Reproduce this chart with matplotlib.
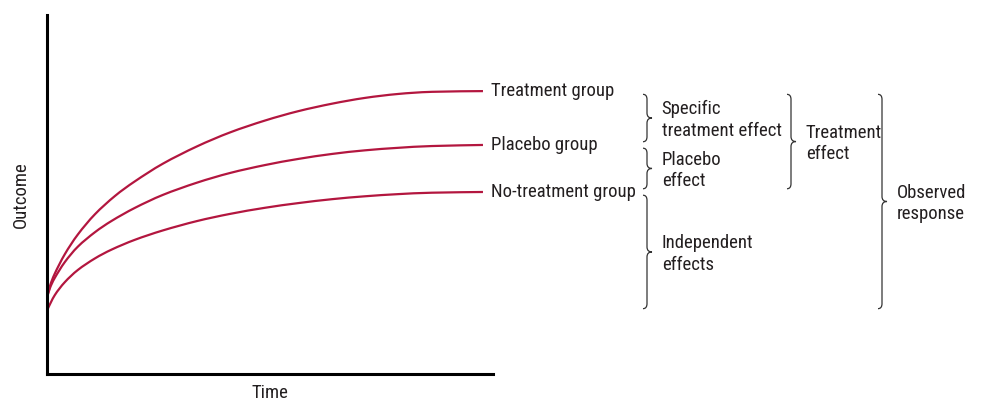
import matplotlib
matplotlib.use("Agg")
import matplotlib.pyplot as plt
from matplotlib.path import Path
from matplotlib.patches import PathPatch

plt.rcParams['font.family'] = ['Roboto Condensed', 'Barlow Semi Condensed', 'DejaVu Sans']

# values (time 0-100, outcome 0-100)
time_treat = [0, 0.7, 1.8, 4.1, 7.1, 11.0, 15.6, 20.2, 26.6, 34.4, 42.0, 50.0, 57.6, 65.4, 72.9, 80.5, 88.3, 100]
treatment = [21.2, 24.6, 28.0, 33.4, 38.9, 44.5, 49.6, 53.7, 58.6, 63.4, 67.3, 70.6, 73.2, 75.3, 76.9, 78.0, 78.6, 78.8]

time_plac = [0, 0.7, 1.8, 4.1, 7.1, 11.0, 14.9, 20.2, 26.6, 34.4, 42.0, 50.0, 57.6, 65.4, 72.9, 80.5, 88.3, 100]
placebo = [21.2, 24.0, 26.8, 31.2, 35.5, 39.5, 42.7, 46.3, 49.9, 53.3, 56.0, 58.2, 59.9, 61.3, 62.3, 63.0, 63.5, 63.8]

time_none = [0, 0.2, 1.8, 4.1, 7.1, 11.0, 14.9, 20.2, 26.6, 34.4, 42.0, 50.0, 57.6, 65.4, 72.9, 80.5, 88.3, 100]
no_treatment = [17.3, 18.2, 22.0, 25.6, 29.0, 32.2, 34.7, 37.4, 40.0, 42.6, 44.6, 46.3, 47.6, 48.7, 49.5, 50.1, 50.5, 50.7]

group_labels = ["Treatment group", "Placebo group", "No-treatment group"]

LINE_COLOR = "#b3163f"
TEXT_COLOR = "#231f20"
FS = 13.5

fig = plt.figure(figsize=(9.82, 4.0), dpi=100)
ax = fig.add_axes([47 / 982, 26 / 400, 446 / 982, 359 / 400])
ax.set_xlim(0, 102.3)
ax.set_ylim(0, 100)


def smooth_line(t, v):
    """Draw the read points joined by a smooth (Catmull-Rom style) curve."""
    pts = list(zip(t, v))
    verts = [pts[0]]
    codes = [Path.MOVETO]
    for i in range(len(pts) - 1):
        p0 = pts[i - 1] if i > 0 else pts[i]
        p1, p2 = pts[i], pts[i + 1]
        p3 = pts[i + 2] if i + 2 < len(pts) else p2
        c1 = (p1[0] + (p2[0] - p0[0]) / 6, p1[1] + (p2[1] - p0[1]) / 6)
        c2 = (p2[0] - (p3[0] - p1[0]) / 6, p2[1] - (p3[1] - p1[1]) / 6)
        verts += [c1, c2, p2]
        codes += [Path.CURVE4] * 3
    ax.add_patch(PathPatch(Path(verts, codes), fill=False, lw=1.6,
                           edgecolor=LINE_COLOR, capstyle='butt'))


series = [(time_treat, treatment), (time_plac, placebo), (time_none, no_treatment)]
for (t, v), label in zip(series, group_labels):
    smooth_line(t, v)
    ax.annotate(label, xy=(t[-1], v[-1]), xytext=(6, 0), textcoords='offset points',
                va='center', ha='left', fontsize=FS, color=TEXT_COLOR)

for s in ['top', 'right']:
    ax.spines[s].set_visible(False)
for s in ['left', 'bottom']:
    ax.spines[s].set_linewidth(2.2)
    ax.spines[s].set_color('black')
ax.set_xticks([])
ax.set_yticks([])
ax.set_xlabel("Time", fontsize=FS, color=TEXT_COLOR, labelpad=7)
ax.set_ylabel("Outcome", fontsize=FS, color=TEXT_COLOR, labelpad=12)

# pixel -> data unit conversions
ux = 102.3 / 446
uy = 100 / 359


def brace(x_px, top, bottom, gap=0.9):
    """Draw a right-pointing curly brace between two outcome values."""
    x0 = (x_px - 47) * ux
    xm = x0 + 4 * ux
    xt = x0 + 9 * ux
    r = 5 * uy
    yt = top - gap
    yb = bottom + gap
    ym = (yt + yb) / 2
    verts = [(x0, yt), (xm, yt), (xm, yt - r),
             (xm, ym + r),
             (xm, ym), (xt, ym),
             (xm, ym), (xm, ym - r),
             (xm, yb + r),
             (xm, yb), (x0, yb)]
    codes = [Path.MOVETO, Path.CURVE3, Path.CURVE3,
             Path.LINETO,
             Path.CURVE3, Path.CURVE3,
             Path.CURVE3, Path.CURVE3,
             Path.LINETO,
             Path.CURVE3, Path.CURVE3]
    ax.add_patch(PathPatch(Path(verts, codes), fill=False, lw=0.9,
                           edgecolor="#333333", clip_on=False))
    return xt, ym


def brace_text(xt, ym, text):
    ax.annotate(text, xy=(xt, ym), xytext=(7, -1.5), textcoords='offset points',
                va='center', ha='left', fontsize=FS, color=TEXT_COLOR,
                linespacing=1.25, annotation_clip=False)


baseline = no_treatment[0]
end_t, end_p, end_n = treatment[-1], placebo[-1], no_treatment[-1]

xt, ym = brace(643, end_t, end_p)
brace_text(xt, ym, "Specific\ntreatment effect")
xt, ym = brace(643, end_p, end_n)
brace_text(xt, ym, "Placebo\neffect")
xt, ym = brace(643, end_n, baseline)
brace_text(xt, ym, "Independent\neffects")
xt, ym = brace(787, end_t, end_n)
brace_text(xt, ym, "Treatment\neffect")
xt, ym = brace(878, end_t, baseline)
brace_text(xt, ym, "Observed\nresponse")

fig.savefig("out.png", dpi=100, facecolor='white')
